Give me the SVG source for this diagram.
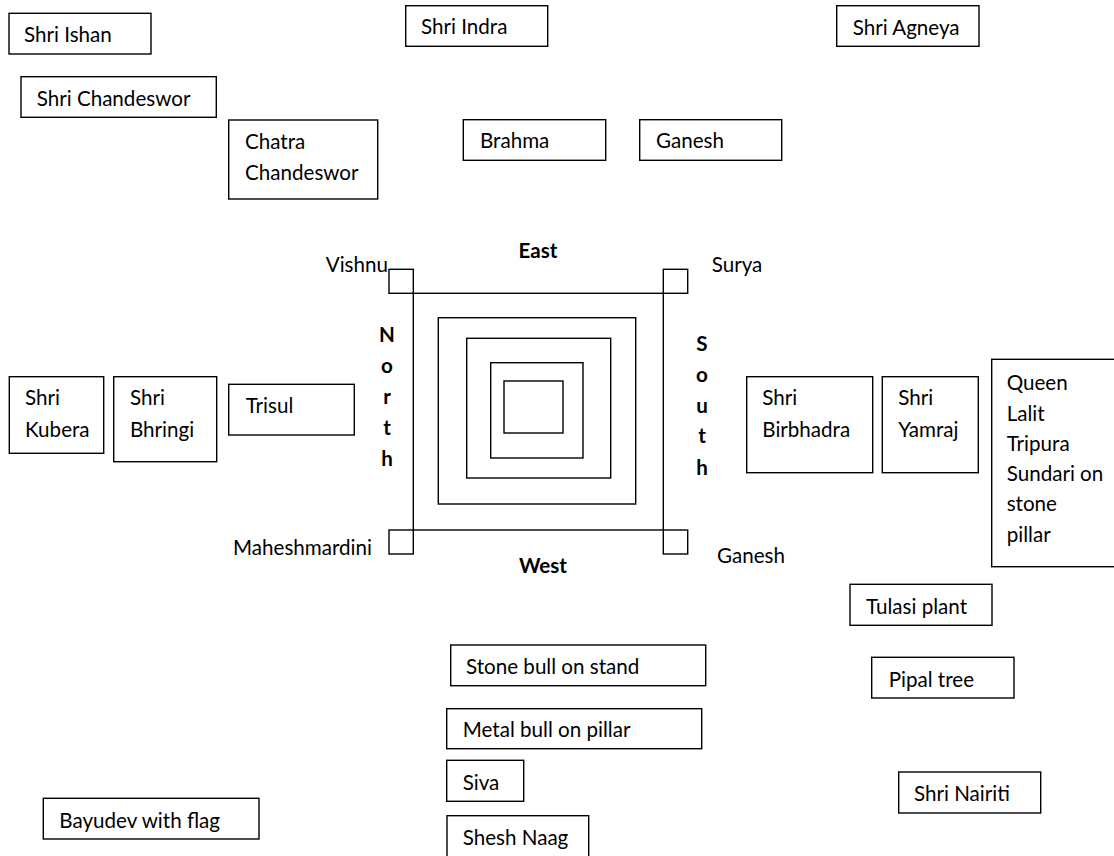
<svg xmlns="http://www.w3.org/2000/svg" width="1114" height="856" viewBox="0 0 1114 856">
<style>
rect{fill:none;stroke:#000;stroke-width:1.4}
text{font-family:Lato,"Liberation Sans",sans-serif;font-size:20.6px;fill:#000}
.b{font-weight:bold}
.m{text-anchor:middle}
.e{text-anchor:end}
</style>
<rect x="0" y="0" width="1114" height="856" style="fill:#fff;stroke:none"/>
<g id="plan">
<rect x="413.3" y="293.3" width="250" height="236.7"/>
<rect x="389" y="269.3" width="24.3" height="24"/>
<rect x="663.3" y="269.3" width="24.4" height="24"/>
<rect x="389" y="530" width="24.3" height="24"/>
<rect x="663.3" y="530" width="24.4" height="24"/>
<rect x="438.3" y="317.7" width="197.4" height="186.3"/>
<rect x="466.7" y="338.3" width="144" height="139.7"/>
<rect x="490.7" y="362.7" width="92.3" height="95.3"/>
<rect x="504" y="381" width="59" height="52"/>
<text class="b m" x="538" y="258">East</text>
<text class="b m" x="543" y="573">West</text>
<g class="b m">
<text class="b m" x="387" y="342">N</text>
<text class="b m" x="387" y="373">o</text>
<text class="b m" x="387" y="404">r</text>
<text class="b m" x="387" y="435">t</text>
<text class="b m" x="387" y="466">h</text>
<text class="b m" x="702" y="351">S</text>
<text class="b m" x="702" y="382">o</text>
<text class="b m" x="702" y="413">u</text>
<text class="b m" x="702" y="443">t</text>
<text class="b m" x="702" y="475">h</text>
</g>
<text class="e" x="388" y="272">Vishnu</text>
<text x="711.7" y="272">Surya</text>
<text class="e" x="372" y="555">Maheshmardini</text>
<text x="717" y="563">Ganesh</text>
</g>
<g id="connectors"/>
<g id="ishan"><rect x="9" y="13.3" width="142" height="40.7"/><text x="24" y="41.7">Shri Ishan</text></g>
<g id="indra"><rect x="405.7" y="5.7" width="142" height="40.6"/><text x="421" y="34.3">Shri Indra</text></g>
<g id="agneya"><rect x="836.7" y="5.7" width="142.3" height="40.6"/><text x="852.7" y="35">Shri Agneya</text></g>
<g id="chandeswor"><rect x="21" y="76.7" width="195.3" height="40.6"/><text x="36.7" y="106">Shri Chandeswor</text></g>
<g id="chatra"><rect x="228.7" y="120" width="149" height="79"/><text x="245" y="149.3">Chatra</text><text x="245" y="180">Chandeswor</text></g>
<g id="brahma"><rect x="463.3" y="119.7" width="142.4" height="40.6"/><text x="480" y="148.3">Brahma</text></g>
<g id="ganesh-top"><rect x="639.7" y="119.7" width="142" height="40.6"/><text x="656" y="148.3">Ganesh</text></g>
<g id="kubera"><rect x="9.3" y="376.7" width="94.4" height="76.6"/><text x="25" y="405">Shri</text><text x="25" y="436.7">Kubera</text></g>
<g id="bhringi"><rect x="113.7" y="376.7" width="103" height="85"/><text x="130" y="405">Shri</text><text x="130" y="436.7">Bhringi</text></g>
<g id="trisul"><rect x="228.7" y="384.3" width="125.6" height="50.7"/><text x="245.7" y="413.3">Trisul</text></g>
<g id="birbhadra"><rect x="746.7" y="376.7" width="126" height="96"/><text x="762.3" y="405">Shri</text><text x="762.3" y="436.7">Birbhadra</text></g>
<g id="yamraj"><rect x="882.3" y="376.7" width="96" height="96"/><text x="898.3" y="405">Shri</text><text x="898.3" y="436.7">Yamraj</text></g>
<g id="queen"><rect x="991.7" y="359.3" width="130" height="207.4"/><text x="1006.7" y="390">Queen</text><text x="1006.7" y="420.7">Lalit</text><text x="1006.7" y="450.5">Tripura</text><text x="1006.7" y="480.7">Sundari on</text><text x="1006.7" y="510.7">stone</text><text x="1006.7" y="541.7">pillar</text></g>
<g id="tulasi"><rect x="850" y="584.3" width="142" height="41"/><text x="866" y="614.3">Tulasi plant</text></g>
<g id="pipal"><rect x="871.7" y="657.3" width="142.3" height="40.7"/><text x="888.7" y="686.7">Pipal tree</text></g>
<g id="nairiti"><rect x="898.7" y="772" width="142" height="41"/><text x="914" y="801">Shri Nairiti</text></g>
<g id="stone-bull"><rect x="450.7" y="645" width="255" height="40.7"/><text x="466" y="674.3">Stone bull on stand</text></g>
<g id="metal-bull"><rect x="446.7" y="708.7" width="255" height="40"/><text x="462.7" y="736.7">Metal bull on pillar</text></g>
<g id="siva"><rect x="446.7" y="760.3" width="77" height="41"/><text x="462.7" y="790">Siva</text></g>
<g id="shesh-naag"><rect x="447" y="815.7" width="141.7" height="50"/><text x="462.7" y="845">Shesh Naag</text></g>
<g id="bayudev"><rect x="43.3" y="798.3" width="215.7" height="40.7"/><text x="59.3" y="828.3">Bayudev with flag</text></g>
</svg>
